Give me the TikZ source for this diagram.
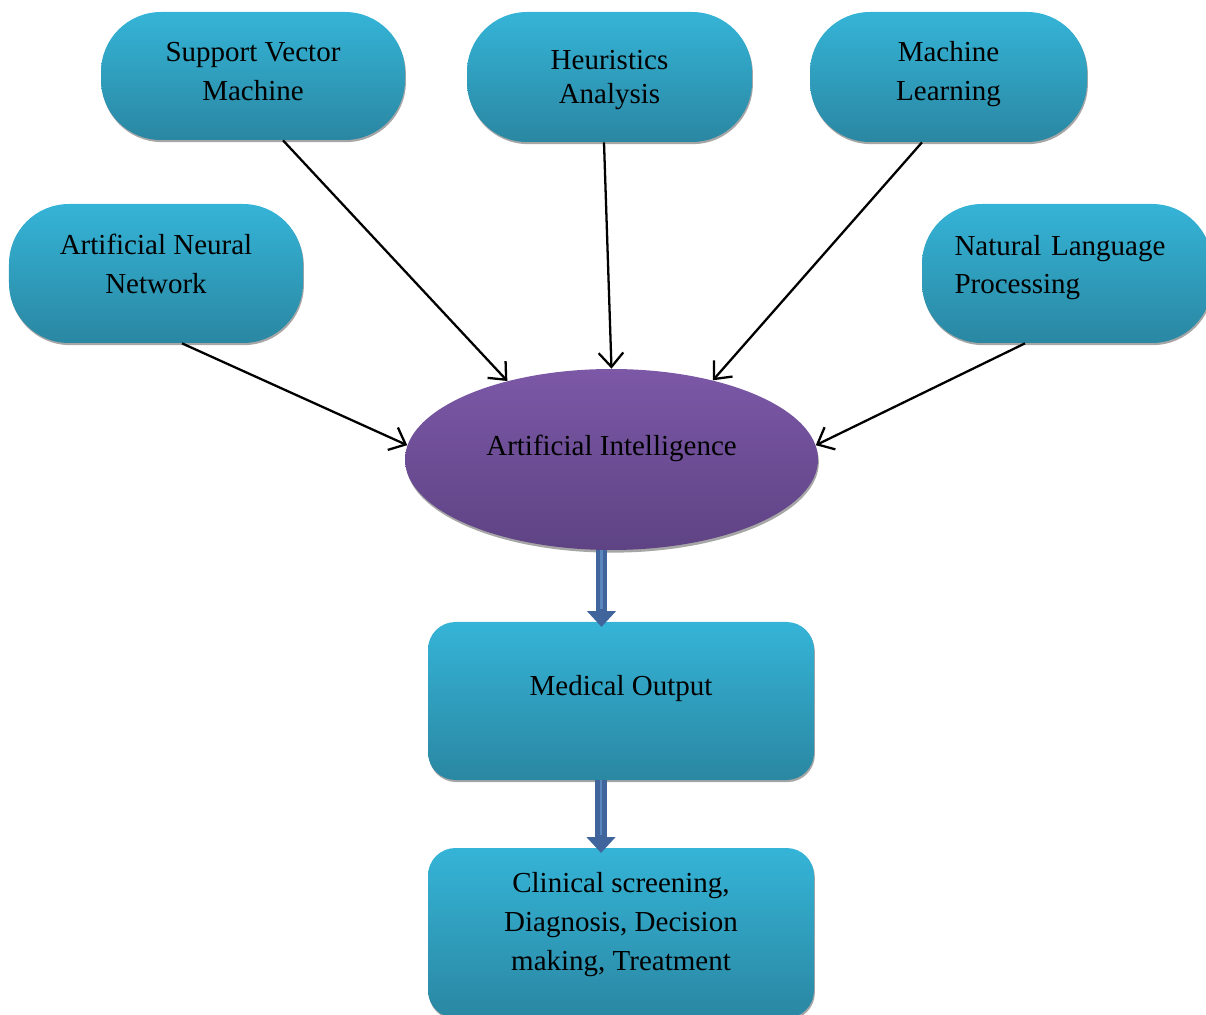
\documentclass[tikz,border=0pt]{standalone}
\usepackage{fontspec}
\setmainfont{Liberation Serif}
\usetikzlibrary{positioning, arrows.meta, shapes.geometric, shadows}

\definecolor{boxtop}{HTML}{35B4D7}
\definecolor{boxbot}{HTML}{2A87A2}
\definecolor{aitop}{HTML}{7C58A7}
\definecolor{aibot}{HTML}{5E4384}
\definecolor{flowblue}{HTML}{3F659C}
\definecolor{flowlight}{HTML}{5A85BD}
\definecolor{rimgray}{HTML}{A6A6A6}

\tikzset{
  pill/.style={rounded corners=1.2cm, top color=boxtop, bottom color=boxbot,
    drop shadow={shadow xshift=0.5pt, shadow yshift=-1.2pt, fill=rimgray, opacity=1},
    align=center, font=\fontsize{16.5}{22}\selectfont},
  card/.style={pill, rounded corners=0.55cm, minimum width=7.72cm},
  feed/.style={-{Straight Barb[length=8pt,width=14pt]}, line width=1.3pt},
  flow/.style={-{Triangle[length=9pt,width=16pt]}, line width=6.8pt, flowblue}
}

\begin{document}
\begin{tikzpicture}
\useasboundingbox (0,0) rectangle (24.12,-20.3);

% top row of techniques
\node[pill, minimum width=6.08cm, minimum height=2.56cm, text depth=4.9pt] (svm) at (5.06,-1.52) {Support Vector\\Machine};
\node[pill, minimum width=5.7cm, minimum height=2.6cm, text depth=0pt, font=\fontsize{16.5}{19.3}\selectfont] (heur) at (12.19,-1.54) {Heuristics\\Analysis};
\node[pill, minimum width=5.54cm, minimum height=2.6cm, text depth=7.1pt] (ml) at (18.97,-1.54) {Machine\\Learning};

% second row
\node[pill, minimum width=5.88cm, minimum height=2.78cm, text depth=11.1pt] (ann) at (3.12,-5.47) {Artificial Neural\\Network};
\node[pill, minimum width=5.8cm, minimum height=2.78cm, text depth=32.5pt, align=left, text width=4.5cm] (nlp) at (21.34,-5.47) {Natural Language\\Processing};

% centre
\node[ellipse, minimum width=8.26cm, minimum height=3.62cm, inner sep=0pt, top color=aitop, bottom color=aibot,
  drop shadow={shadow xshift=0.5pt, shadow yshift=-1.5pt, fill=rimgray, opacity=1},
  font=\fontsize{16.5}{22}\selectfont, text depth=15.6pt] (ai) at (12.23,-9.19) {Artificial Intelligence};

% outputs
\node[card, minimum height=3.16cm, text depth=17.3pt] (med) at (12.42,-14.02) {Medical Output};
\node[card, minimum height=3.4cm, text depth=13pt] (clin) at (12.42,-18.66) {Clinical screening,\\Diagnosis, Decision\\making, Treatment};

% arrows into AI
\foreach \src/\dx/\ang in {svm/0.6/143, heur/-0.11/90, ml/-0.53/38, ann/0.52/176, nlp/-0.84/4}
  \draw[feed] ([xshift=\dx cm]\src.south) -- (ai.\ang);

% flow down
\draw[flow] ([xshift=-0.2cm]ai.south) -- ([xshift=-0.2cm, yshift=-3pt]ai.south |- med.north);
\draw[flowlight, line width=1.6pt] ([xshift=-0.2cm]ai.south) -- ([xshift=-0.2cm, yshift=7pt]ai.south |- med.north);
\draw[flow] ([xshift=-0.4cm]med.south) -- ([xshift=-0.4cm, yshift=-3pt]med.south |- clin.north);
\draw[flowlight, line width=1.6pt] ([xshift=-0.4cm]med.south) -- ([xshift=-0.4cm, yshift=7pt]med.south |- clin.north);

\end{tikzpicture}
\end{document}
